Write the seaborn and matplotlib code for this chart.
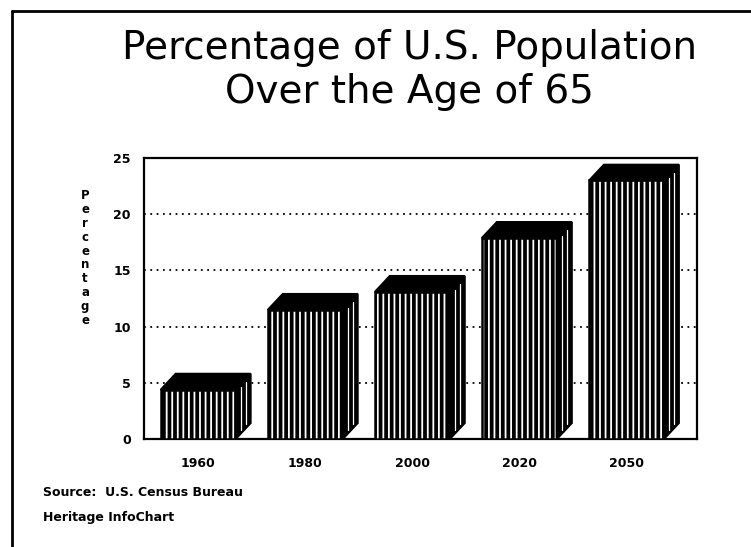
import matplotlib
matplotlib.use("Agg")
import matplotlib.pyplot as plt
import seaborn as sns
import pandas as pd
from matplotlib.patches import Polygon
from matplotlib.lines import Line2D

# ---- data ----
years = ["1960", "1980", "2000", "2020", "2050"]
percent = [4.4, 11.5, 13.1, 17.9, 23.0]
yticks = [0, 5, 10, 15, 20, 25]

title = "Percentage of U.S. Population\nOver the Age of 65"
ylabel = "Percentage"
source = "Source:  U.S. Census Bureau"
credit = "Heritage InfoChart"

sns.set_theme(style="white")
plt.rcParams["font.family"] = ["DejaVu Sans"]
plt.rcParams["hatch.linewidth"] = 2.7
plt.rcParams["text.color"] = "black"
plt.rcParams["xtick.color"] = "black"
plt.rcParams["ytick.color"] = "black"

df = pd.DataFrame({"year": years, "pct": percent})

fig = plt.figure(figsize=(7.51, 5.47), dpi=100)
ax = fig.add_axes([144 / 751, 1 - 439 / 547, (697 - 144) / 751, (439 - 158) / 547])

sns.barplot(data=df, x="year", y="pct", ax=ax, width=0.70, color="white",
            edgecolor="black", linewidth=1.8, saturation=1, zorder=3)

dx, dy = 0.14, 1.42
for p in ax.patches:
    p.set_hatch("|||")
    p.set_facecolor("white")
    p.set_edgecolor("black")
    x0, w, h = p.get_x(), p.get_width(), p.get_height()
    x1 = x0 + w
    side = Polygon([(x1, 0), (x1 + dx, dy), (x1 + dx, h + dy), (x1, h)],
                   closed=True, facecolor="black", edgecolor="black", lw=1.6,
                   zorder=3)
    top = Polygon([(x0, h), (x0 + dx, h + dy), (x1 + dx, h + dy), (x1, h)],
                  closed=True, facecolor="black", edgecolor="black", lw=1.2, zorder=3)
    ax.add_patch(side)
    ax.add_patch(top)
    # thin light stripes on the side face for the ribbed look
    for f in (0.35, 0.7):
        ax.plot([x1 + dx * f, x1 + dx * f], [dy * f + 0.3, h + dy * f - 0.3],
                color="white", lw=0.9, zorder=4)

ax.set_xlim(-0.505, 4.66)
ax.set_ylim(0, 25)
ax.set_yticks(yticks)
ax.set_yticklabels([str(t) for t in yticks], fontweight="bold", fontsize=9, color="black")
ax.set_xticks(range(len(years)))
ax.set_xticklabels(years, fontweight="bold", fontsize=9, color="black")
ax.set_xlabel("")
ax.set_ylabel("")

for t in yticks[1:-1]:
    ax.axhline(t, color="black", lw=1.3, ls=(0, (1, 2.5)), zorder=1)

for s in ax.spines.values():
    s.set_visible(True)
    s.set_color("black")
    s.set_linewidth(1.6)

ax.tick_params(axis="y", direction="inout", length=9, width=1.3, pad=5, colors="black")
ax.tick_params(axis="x", direction="out", length=6, width=1.3, pad=7, colors="black")

fig.text(0.545, 1 - 70 / 547, title, ha="center", va="center", fontsize=28,
         linespacing=1.2, color="black")

fig.text(85 / 751, 1 - 258 / 547, "\n".join(ylabel), ha="center", va="center",
         fontsize=8.5, fontweight="bold", linespacing=1.08, color="black")

fig.text(43 / 751, 1 - 492 / 547, source, ha="left", va="center", fontsize=9,
         fontweight="bold", color="black")
fig.text(43 / 751, 1 - 518 / 547, credit, ha="left", va="center", fontsize=9,
         fontweight="bold", color="black")

# page border (left and top)
fig.add_artist(Line2D([12 / 751, 12 / 751], [0, 1 - 11 / 547], color="black",
                      lw=2, transform=fig.transFigure))
fig.add_artist(Line2D([12 / 751, 1.0], [1 - 11 / 547, 1 - 11 / 547], color="black",
                      lw=2, transform=fig.transFigure))

fig.savefig("out.png", dpi=100, facecolor="white")
